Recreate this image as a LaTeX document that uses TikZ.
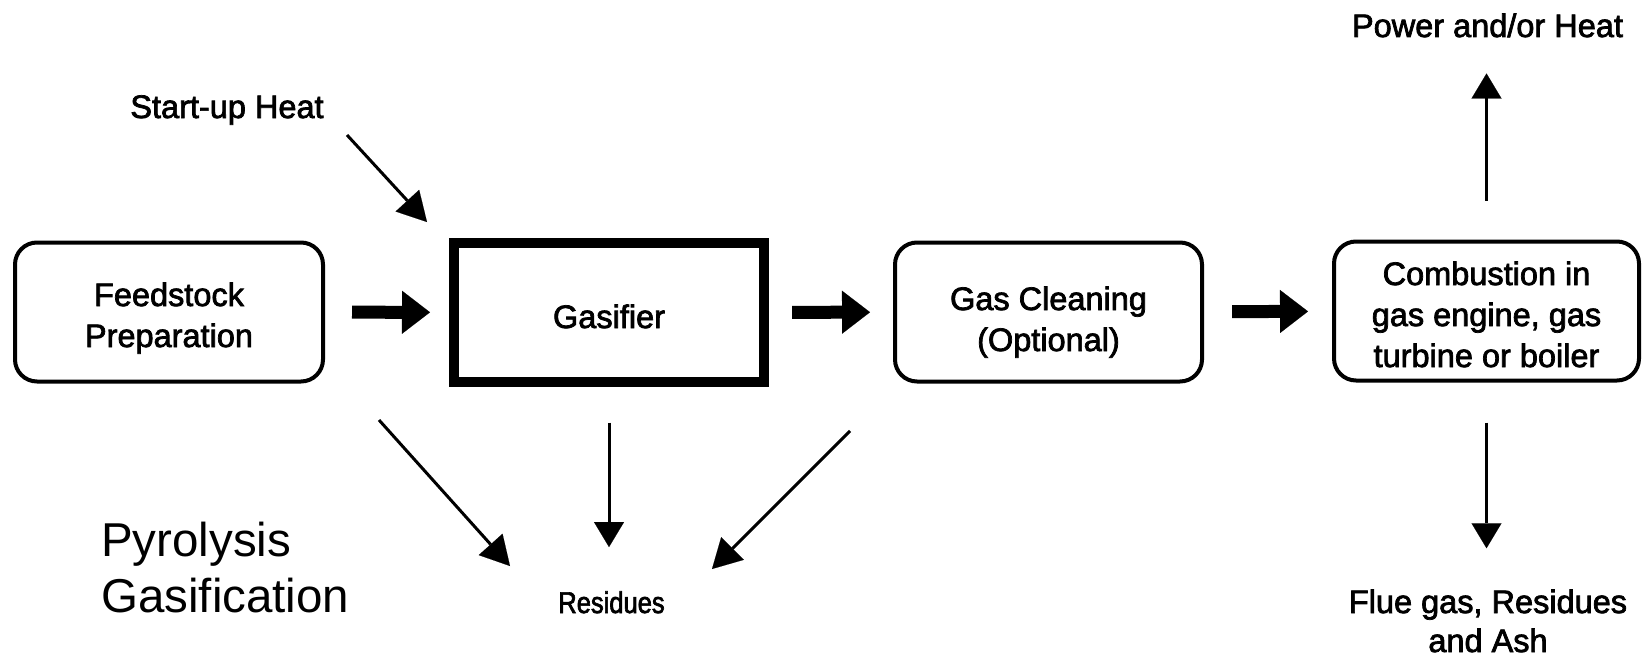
\documentclass[tikz,border=0pt]{standalone}
\usepackage{fontspec}
\setmainfont{Liberation Sans}
\newfontfamily\heavysans[FakeBold=2.2]{Liberation Sans}
\newfontfamily\narrowsans[FakeStretch=0.85,FakeBold=2.2]{Liberation Sans}
\usetikzlibrary{arrows.meta}

\newcommand\procfont{\heavysans\fontsize{32.5}{41}\selectfont}
\newcommand\fluefont{\heavysans\fontsize{32.5}{39}\selectfont}
\newcommand\residuefont{\narrowsans\fontsize{30}{34}\selectfont}
\newcommand\titlefont{\fontsize{47.5}{56}\selectfont}

\begin{document}
\begin{tikzpicture}[x=1pt,y=-1pt,
  procbox/.style={draw, line width=4pt, rounded corners=22pt,
    minimum height=139pt, align=center, font=\procfont, text depth=0pt},
  reactor/.style={draw, line width=10pt, minimum width=310pt,
    minimum height=139pt, font=\procfont},
  caption/.style={inner sep=0pt, font=\procfont, align=center},
  flowarrow/.style={line width=13pt,
    -{Triangle[width=43pt,length=28pt,line width=0.1pt]}},
  thinarrow/.style={line width=3pt,
    -{Triangle[width=30pt,length=25pt,line width=0.1pt]}},
  slantarrow/.style={line width=3pt,
    -{Triangle[width=32pt,length=29pt,line width=0.1pt]}}]

\useasboundingbox[fill=white] (0,0) rectangle (1643,661);

% process chain (text heights tuned so the lines sit where they should)
\node[procbox, minimum width=308pt, text height=70pt]
  (feed) at (169,312) {Feedstock\\Preparation};
\node[reactor, text height=31pt, text depth=0pt]
  (gasifier) at (609,312.5) {Gasifier};
\node[procbox, minimum width=307pt, text height=78pt]
  (clean) at (1048.5,312) {Gas Cleaning\\(Optional)};
\node[procbox, minimum width=305pt, text height=112pt]
  (burn) at (1486.5,311) {Combustion in\\gas engine, gas\\turbine or boiler};

% inputs and outputs
\node[caption, anchor=base] (startup) at (227,118) {Start-up Heat};
\node[caption, anchor=base] (power) at (1487.5,37) {Power and/or Heat};
\node[caption, anchor=base, font=\fluefont] (flue) at (1488,652) {Flue gas, Residues\\and Ash};
\node[inner sep=0pt, anchor=base, font=\residuefont] (residues) at (611.5,613) {Residues};
\node[inner sep=0pt, anchor=base west, align=left, font=\titlefont]
  (title) at (101,612) {Pyrolysis\\Gasification};

% main gas flow
\draw[flowarrow, shorten <=27pt, shorten >=19pt] (feed) -- (gasifier);
\draw[flowarrow, shorten <=23pt, shorten >=23pt] (gasifier) -- (clean);
\draw[flowarrow, shorten <=28pt, shorten >=24pt] (clean) -- (burn);

% heat supply and residue streams
\coordinate (heatTail) at (347,135);
\coordinate (heatHead) at (427,222);
\draw[slantarrow] (heatTail) -- (heatHead);

\coordinate (prepTail) at (379,420);
\coordinate (prepHead) at (510,566);
\draw[slantarrow] (prepTail) -- (prepHead);

\coordinate (cleanTail) at (850,431);
\coordinate (cleanHead) at (712,569);
\draw[slantarrow] (cleanTail) -- (cleanHead);

\draw[thinarrow, shorten <=35.5pt, shorten >=44pt]
  (gasifier.south) -- (gasifier.south |- residues.north);
\draw[thinarrow, shorten <=39pt, shorten >=36pt]
  (burn.north) -- (burn.north |- power.south);
\draw[thinarrow, shorten <=40pt, shorten >=41pt]
  (burn.south) -- (burn.south |- flue.north);

\end{tikzpicture}
\end{document}
